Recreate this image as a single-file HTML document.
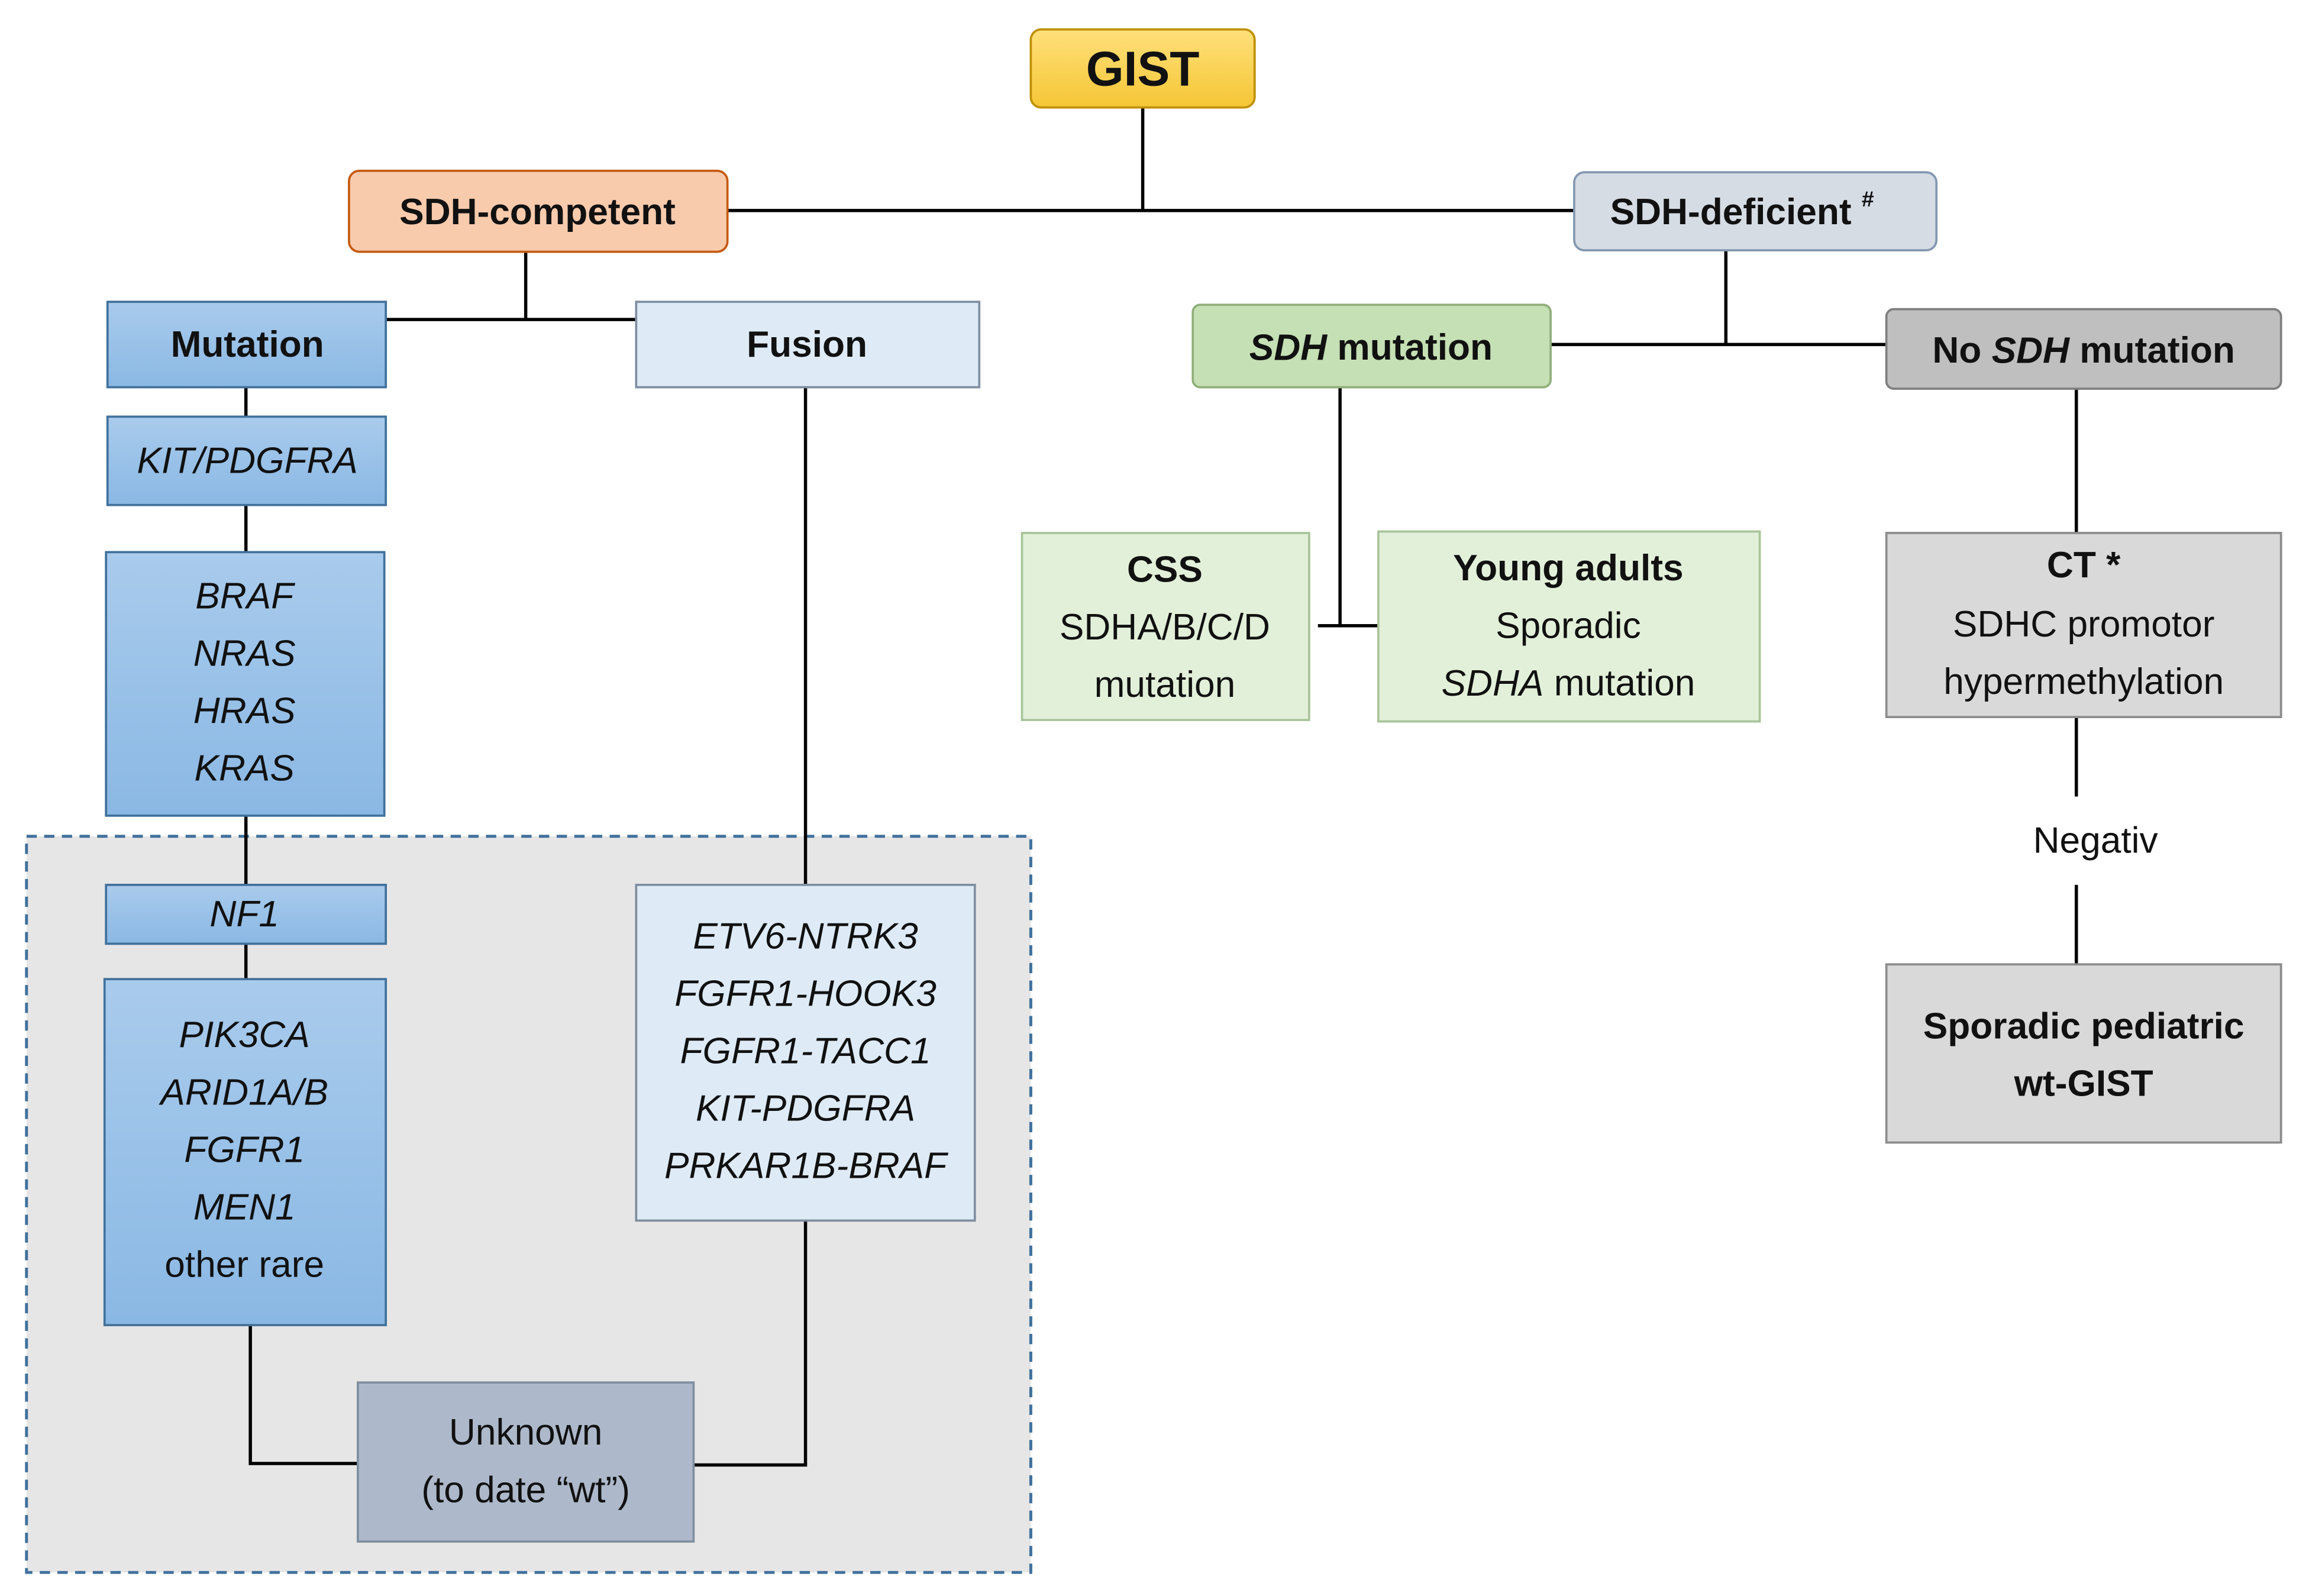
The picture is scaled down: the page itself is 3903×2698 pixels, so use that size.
<!DOCTYPE html>
<html><head><meta charset="utf-8"><style>html,body{margin:0;padding:0;background:#fff}svg{display:block}</style></head>
<body>
<svg xmlns="http://www.w3.org/2000/svg" width="3903" height="2698" viewBox="0 0 1568 1084" preserveAspectRatio="none" font-family="Liberation Sans, sans-serif">
<defs>
<linearGradient id="gy" x1="0" y1="0" x2="0" y2="1"><stop offset="0" stop-color="#FFE07A"/><stop offset="1" stop-color="#F5C635"/></linearGradient>
<linearGradient id="gb" x1="0" y1="0" x2="0" y2="1"><stop offset="0" stop-color="#A9CBEC"/><stop offset="1" stop-color="#8AB8E4"/></linearGradient>
</defs>
<rect x="18" y="568" width="682" height="500" fill="#E7E6E6" stroke="#41719C" stroke-width="2" stroke-dasharray="7,5"/>
<g stroke="#000" stroke-width="2.2" fill="none">
<path d="M776 73V143M494 143H1069"/>
<path d="M357 171V217M262 217H432"/>
<path d="M167 263V283M167 343V375M167 554V601M167 641V665"/>
<path d="M170 900V994H243"/>
<path d="M547 263V601M547 829V995H471"/>
<path d="M1172 170V234M1053 234H1281"/>
<path d="M910 263V425M895 425H936"/>
<path d="M1410 264V362M1410 487V541M1410 601V655"/>
</g>
<g stroke-width="1.5">
<rect x="700" y="20" width="152" height="53" rx="7" fill="url(#gy)" stroke="#BF9000"/>
<rect x="237" y="116" width="257" height="55" rx="7" fill="#F8CBAD" stroke="#C55A11"/>
<rect x="1069" y="117" width="246" height="53" rx="7" fill="#D6DCE4" stroke="#8497B0"/>
<rect x="73" y="205" width="189" height="58" fill="url(#gb)" stroke="#41719C"/>
<rect x="432" y="205" width="233" height="58" fill="#DEEBF7" stroke="#7F8FA0"/>
<rect x="73" y="283" width="189" height="60" fill="url(#gb)" stroke="#41719C"/>
<rect x="72" y="375" width="189" height="179" fill="url(#gb)" stroke="#41719C"/>
<rect x="72" y="601" width="190" height="40" fill="url(#gb)" stroke="#41719C"/>
<rect x="71" y="665" width="191" height="235" fill="url(#gb)" stroke="#41719C"/>
<rect x="432" y="601" width="230" height="228" fill="#DEEBF7" stroke="#7F8FA0"/>
<rect x="243" y="939" width="228" height="108" fill="#ADB9CA" stroke="#7F8FA0"/>
<rect x="810" y="207" width="243" height="56" rx="5" fill="#C5E0B4" stroke="#8FAF7A"/>
<rect x="1281" y="210" width="268" height="54" rx="5" fill="#BFBFBF" stroke="#7F7F7F"/>
<rect x="694" y="362" width="195" height="127" fill="#E2F0D9" stroke="#A9C49A"/>
<rect x="936" y="361" width="259" height="129" fill="#E2F0D9" stroke="#A9C49A"/>
<rect x="1281" y="362" width="268" height="125" fill="#D9D9D9" stroke="#8C8C8C"/>
<rect x="1281" y="655" width="268" height="121" fill="#D9D9D9" stroke="#8C8C8C"/>
</g>
<g text-anchor="middle" dominant-baseline="central" fill="#111" font-size="25">
<text x="776" y="47" font-size="33" font-weight="bold">GIST</text>
<text x="365" y="144" font-weight="bold">SDH-competent</text>
<text x="1183" y="144" font-weight="bold">SDH-deficient <tspan font-size="15" dy="-9">#</tspan></text>
<text x="168" y="234" font-weight="bold">Mutation</text>
<text x="548" y="234" font-weight="bold">Fusion</text>
<text x="168" y="313" font-style="italic">KIT/PDGFRA</text>
<g font-style="italic"><text x="166" y="405">BRAF</text><text x="166" y="444">NRAS</text><text x="166" y="483">HRAS</text><text x="166" y="522">KRAS</text>
<text x="166" y="621">NF1</text>
<text x="166" y="703">PIK3CA</text><text x="166" y="742">ARID1A/B</text><text x="166" y="781">FGFR1</text><text x="166" y="820">MEN1</text></g>
<text x="166" y="859">other rare</text>
<g font-style="italic"><text x="547" y="636">ETV6-NTRK3</text><text x="547" y="675">FGFR1-HOOK3</text><text x="547" y="714">FGFR1-TACC1</text><text x="547" y="753">KIT-PDGFRA</text><text x="547" y="792">PRKAR1B-BRAF</text></g>
<text x="357" y="973">Unknown</text>
<text x="357" y="1012">(to date “wt”)</text>
<text x="931" y="236" font-weight="bold"><tspan font-style="italic">SDH</tspan> mutation</text>
<text x="1415" y="238" font-weight="bold">No <tspan font-style="italic">SDH</tspan> mutation</text>
<text x="791" y="387" font-weight="bold">CSS</text>
<text x="791" y="426">SDHA/B/C/D</text>
<text x="791" y="465">mutation</text>
<text x="1065" y="386" font-weight="bold">Young adults</text>
<text x="1065" y="425">Sporadic</text>
<text x="1065" y="464"><tspan font-style="italic">SDHA</tspan> mutation</text>
<text x="1415" y="384" font-weight="bold">CT *</text>
<text x="1415" y="424">SDHC promotor</text>
<text x="1415" y="463">hypermethylation</text>
<text x="1423" y="571">Negativ</text>
<text x="1415" y="697" font-weight="bold">Sporadic pediatric</text>
<text x="1415" y="736" font-weight="bold">wt-GIST</text>
</g>
</svg>
</body></html>
